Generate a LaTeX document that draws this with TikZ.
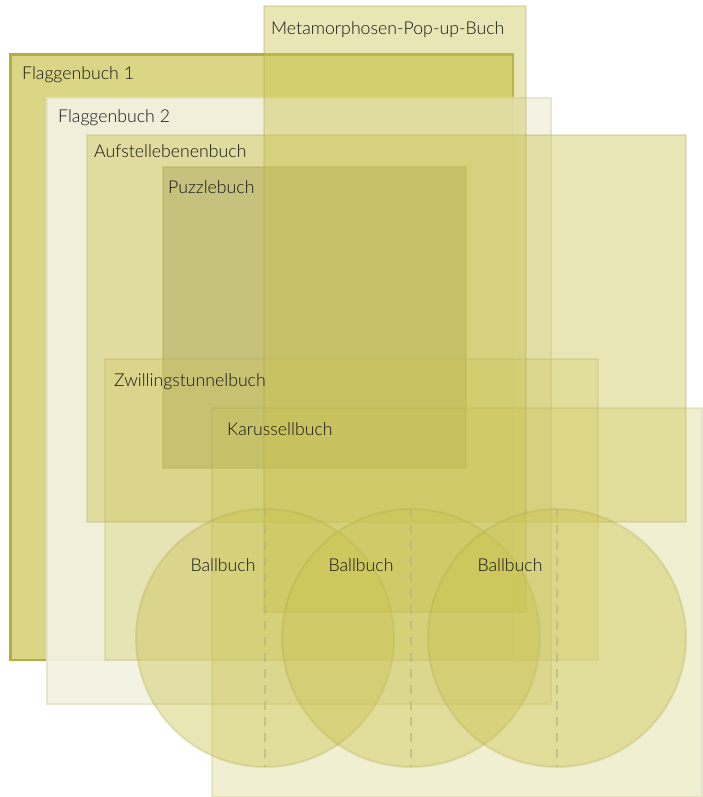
\documentclass[tikz,border=0pt]{standalone}
\usepackage{fontspec}
\setmainfont{Lato Light}
\definecolor{bkolive}{RGB}{202,195,80}
\definecolor{bkedge}{RGB}{170,165,70}
\definecolor{bkfone}{RGB}{219,214,133}
\definecolor{bkfoneedge}{RGB}{178,173,69}
\definecolor{bkcream}{RGB}{243,242,225}
\definecolor{bkcreamedge}{RGB}{230,228,200}
\definecolor{bkpuzzle}{RGB}{168,163,88}
\definecolor{bkdash}{RGB}{185,182,135}
\definecolor{bktext}{RGB}{20,20,20}
\tikzset{
  bkbox/.style={fill=bkolive, fill opacity=0.42, draw=bkedge, draw opacity=0.25, line width=2pt},
  bklight/.style={fill=bkolive, fill opacity=0.26, draw=bkedge, draw opacity=0.2, line width=2pt},
  bkfirst/.style={fill=bkfone, draw=bkfoneedge, line width=2.6pt},
  bkcreambox/.style={fill=bkcream, fill opacity=0.92, draw=bkcreamedge, draw opacity=0.9, line width=2pt},
  bkpuz/.style={fill=bkpuzzle, fill opacity=0.45, draw=bkedge, draw opacity=0.35, line width=2pt},
  bkball/.style={fill=bkolive, fill opacity=0.42, draw=bkedge, draw opacity=0.25, line width=2pt},
  bkdashed/.style={draw=bkdash, draw opacity=0.7, line width=2pt, dash pattern=on 9pt off 7pt},
  bklabel/.style={font=\fontsize{17.7}{21}\selectfont, text=bktext, inner sep=0pt, anchor=base west},
  bkballlabel/.style={font=\fontsize{17.7}{21}\selectfont, text=bktext, inner sep=0pt, anchor=base}
}
\begin{document}
\begin{tikzpicture}[x=1pt, y=-1pt]
\useasboundingbox (0,0) rectangle (702,797);
% Flaggenbuch 1
\draw[bkfirst] (10.5,54.5) rectangle (513,660);
% Flaggenbuch 2
\draw[bkcreambox] (47,98) rectangle (551,704);
% Aufstellebenenbuch
\draw[bkbox] (87,135) rectangle (686,522);
% Puzzlebuch
\draw[bkpuz] (163,167) rectangle (466,468);
% Zwillingstunnelbuch
\draw[bklight] (105,359) rectangle (598,660);
% Karussellbuch
\draw[bklight] (212,408) rectangle (702,797);
% Metamorphosen-Pop-up-Buch
\draw[bkbox] (264,6) rectangle (526,612);
% Ballbuch circles
\coordinate (c1) at (265,638);
\coordinate (c2) at (411,638);
\coordinate (c3) at (557,638);
\draw[bkball] (c1) circle[radius=129];
\draw[bkball] (c2) circle[radius=129];
\draw[bkball] (c3) circle[radius=129];
\coordinate (t1) at (265,509);
\coordinate (b1) at (265,767);
\coordinate (t2) at (411,509);
\coordinate (b2) at (411,767);
\coordinate (t3) at (557,509);
\coordinate (b3) at (557,767);
\draw[bkdashed] (t1) -- (b1);
\draw[bkdashed] (t2) -- (b2);
\draw[bkdashed] (t3) -- (b3);
% labels
\node[bklabel] (lmeta) at (271,35) {Metamorphosen-Pop-up-Buch};
\node[bklabel] (lf1) at (22,80) {Flaggenbuch 1};
\node[bklabel] (lf2) at (58,122) {Flaggenbuch 2};
\node[bklabel] (lauf) at (94,157) {Aufstellebenenbuch};
\node[bklabel] (lpuz) at (168,193) {Puzzlebuch};
\node[bklabel] (lzwi) at (114,386) {Zwillingstunnelbuch};
\node[bklabel] (lkar) at (227,435) {Karussellbuch};
\node[bkballlabel] (lb1) at (223,571) {Ballbuch};
\node[bkballlabel] (lb2) at (361,571) {Ballbuch};
\node[bkballlabel] (lb3) at (510,571) {Ballbuch};
\end{tikzpicture}
\end{document}
